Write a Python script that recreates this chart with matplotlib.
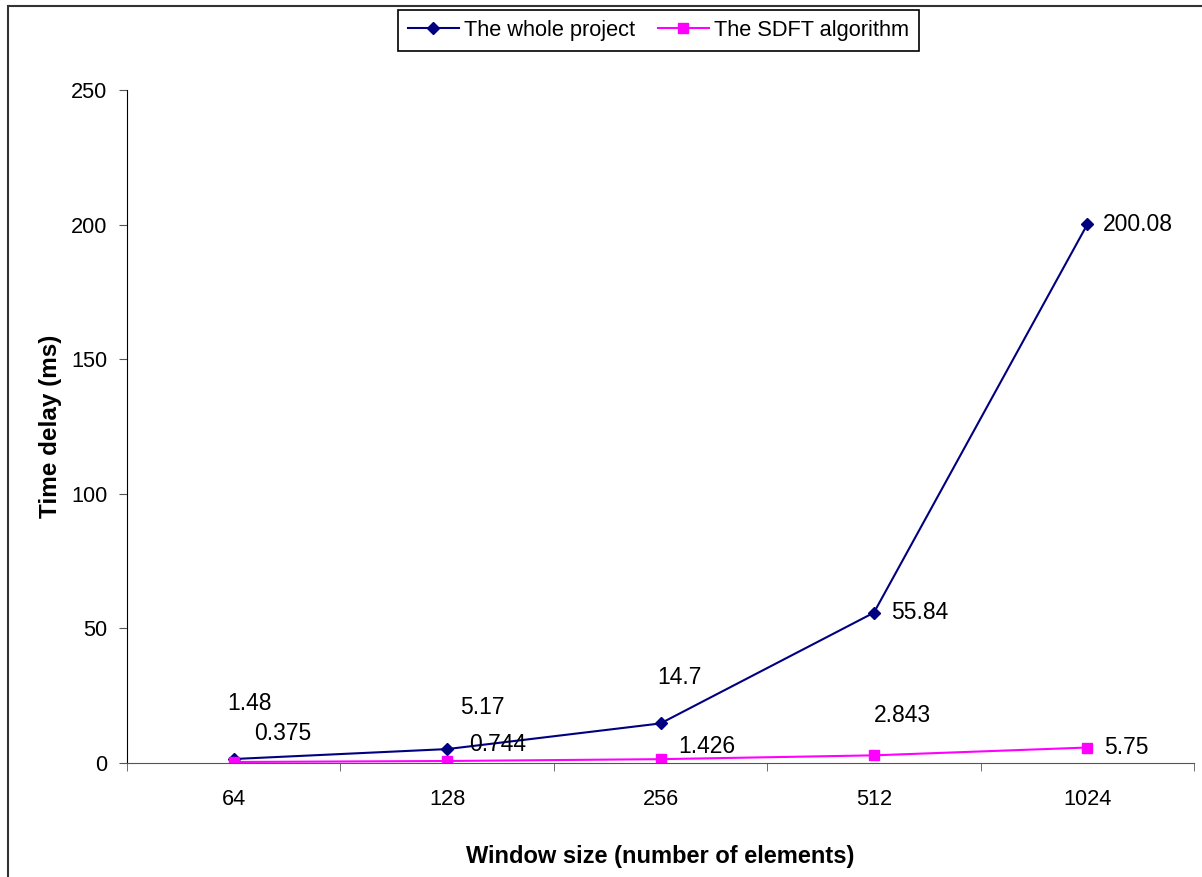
import numpy as np
import matplotlib.pyplot as plt
from matplotlib.patches import Rectangle

plt.rcParams['font.family'] = ['Liberation Sans', 'DejaVu Sans']

categories = ['64', '128', '256', '512', '1024']
whole = [1.48, 5.17, 14.7, 55.84, 200.08]
sdft = [0.375, 0.744, 1.426, 2.843, 5.75]
# label offsets in pixels (dx to text left edge, dy up to text centre)
whole_off = [(-6, 56), (13, 42), (-3, 46), (17, 0), (16, 0)]
sdft_off = [(20, 28), (22, 16), (18, 13), (0, 40), (17, 0)]

fig = plt.figure(figsize=(12.02, 8.77), dpi=100)
ax = fig.add_axes([127/1202, 1-763/877, (1194-127)/1202, (763-90)/877])

x = np.arange(len(categories))
ax.plot(x, whole, color='#000080', lw=1.5, marker='D', ms=6.5, label='The whole project')
ax.plot(x, sdft, color='#FF00FF', lw=1.5, marker='s', ms=7.5, label='The SDFT algorithm')

for vals, offs in [(whole, whole_off), (sdft, sdft_off)]:
    for xi, v, (dx, dy) in zip(x, vals, offs):
        ax.annotate(f'{v:g}', (xi, v), xytext=(dx*0.72, dy*0.72), textcoords='offset points',
                    fontsize=16.5, va='center', ha='left')

ax.set_xlim(-0.5, len(categories) - 0.5)
ax.set_ylim(0, 250)
ax.set_yticks([0, 50, 100, 150, 200, 250])
ax.set_xticks(x)
ax.set_xticklabels(categories)
ax.set_xticks(np.arange(-0.5, len(categories)), minor=True)
ax.tick_params(axis='x', which='major', length=0, pad=19, labelsize=15.7)
ax.tick_params(axis='x', which='minor', length=6, direction='out', color='#555555')
ax.tick_params(axis='y', length=6, direction='out', pad=8, labelsize=15.7, color='#555555')
for s in ['top', 'right']:
    ax.spines[s].set_visible(False)
ax.spines['bottom'].set_color('#555555')
ax.spines['left'].set_color('black')

ax.set_xlabel('Window size (number of elements)', fontsize=17, fontweight='bold')
ax.set_ylabel('Time delay (ms)', fontsize=17.5, fontweight='bold')
ax.xaxis.set_label_coords(0.5, (763-857)/673)
ax.xaxis.label.set_va('center')
ax.yaxis.set_label_coords((51-127)/1067, 0.5)
ax.yaxis.label.set_va('center')

leg = fig.legend(loc='center', bbox_to_anchor=(658.5/1202, 1-30.5/877), ncol=2, fontsize=15.7,
                 frameon=True, fancybox=False, edgecolor='black', framealpha=1,
                 handlelength=2.33, handletextpad=0.25, columnspacing=1.05,
                 borderpad=0.45, borderaxespad=0)
leg.get_frame().set_linewidth(1.2)

fig.patches.append(Rectangle((8/1202, -0.1), 1.2, 1.1 - 6/877, transform=fig.transFigure,
                             fill=False, edgecolor='#333333', lw=1.5))

fig.savefig('out.png', dpi=100)
